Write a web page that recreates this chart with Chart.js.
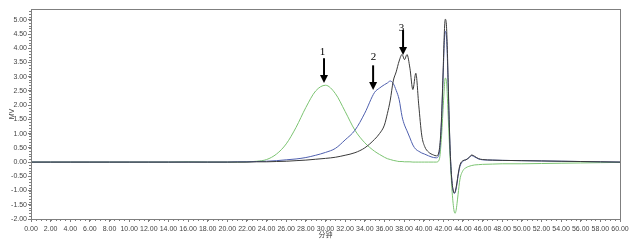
<!DOCTYPE html>
<html>
<head>
<meta charset="utf-8">
<script src="https://cdn.jsdelivr.net/npm/chart.js@4/dist/chart.umd.min.js"></script>
<style>
html,body{margin:0;padding:0;background:#fff;}
#wrap{width:635px;height:241px;position:relative;}
</style>
</head>
<body>
<div id="wrap"><canvas id="c" width="635" height="241"></canvas></div>
<script>
// ---- data (minutes vs MV) ----
const times = [0,2,4,6,8,10,12,14,16,18,20,21,22,23,24,25,26,27,28,29,30,31,32,33,34,35,35.5,36,36.3,36.6,36.9,37.2,37.5,37.8,38.05,38.3,38.6,38.9,39.2,39.5,39.8,40.1,40.5,41,41.3,41.6,41.8,42,42.1,42.2,42.3,42.4,42.5,42.6,42.7,42.8,42.9,43,43.1,43.2,43.3,43.4,43.5,43.7,44,44.3,44.6,44.9,45.2,45.6,46,47,48,50,52,54,56,58,60];

const sample1 = [0,0,0,0,0,0,0,0,0.01,0,0,0,0.01,0.03,0.09,0.28,0.64,1.22,1.92,2.50,2.70,2.41,1.78,1.12,0.68,0.38,0.27,0.17,0.12,0.09,0.06,0.04,0.02,0.02,0.01,0.01,0.01,0,0,0,0,0,0,0,0,0.1,0.8,2.0,2.6,2.95,2.9,2.4,1.6,0.8,0.1,-0.5,-1.05,-1.45,-1.72,-1.8,-1.7,-1.45,-1.15,-0.6,-0.3,-0.2,-0.15,-0.12,-0.1,-0.09,-0.08,-0.07,-0.06,-0.06,-0.05,-0.04,-0.03,-0.02,-0.01];

const sample2 = [0,0,0,0,0,0,0,0,0,0,0,0.01,0.01,0.02,0.03,0.05,0.08,0.11,0.16,0.24,0.34,0.48,0.78,1.12,1.72,2.45,2.6,2.72,2.78,2.85,2.76,2.52,2.2,1.6,1.3,1.1,0.85,0.6,0.45,0.38,0.32,0.28,0.22,0.16,0.15,0.35,1.3,3.2,4.2,4.6,4.5,3.8,2.6,1.4,0.4,-0.3,-0.75,-1.0,-1.1,-1.08,-0.95,-0.75,-0.5,-0.15,0.03,0.08,0.15,0.23,0.18,0.11,0.08,0.07,0.06,0.05,0.04,0.03,0.02,0.01,0];

const sample3 = [0,0,0,0,0,0,0,0,0,0,0,0,0,0.01,0.01,0.02,0.03,0.05,0.07,0.1,0.13,0.17,0.24,0.33,0.5,0.8,1.0,1.3,1.7,2.18,2.85,3.17,3.55,3.78,3.6,3.78,3.3,2.55,3.12,2.0,0.95,0.55,0.35,0.25,0.22,0.45,1.4,3.4,4.5,5.02,4.9,4.1,2.8,1.5,0.4,-0.3,-0.75,-0.98,-1.08,-1.05,-0.9,-0.7,-0.45,-0.1,0.05,0.08,0.15,0.25,0.2,0.12,0.09,0.07,0.06,0.05,0.04,0.03,0.02,0.01,0];

const xTickValues = [0,2,4,6,8,10,12,14,16,18,20,22,24,26,28,30,32,34,36,38,40,42,44,46,48,50,52,54,56,58,60];
const yTickValues = [-2,-1.5,-1,-0.5,0,0.5,1,1.5,2,2.5,3,3.5,4,4.5,5];

const arrowLabels = ['1','2','3'];
const arrowX = [29.85, 34.85, 37.9];
const arrowTipY = [2.78, 2.53, 3.76];
const arrowTailY = [3.65, 3.40, 4.64];
const labelX = [29.7, 34.9, 37.75];
const labelY = [3.87, 3.70, 4.70];

const xTitle = '分钟';
const yTitle = 'MV';

function pts(ys){ return times.map((t,i)=>({x:t,y:ys[i]})); }

const axisColor = '#7f7f7f';
const tickFont = {family:'Liberation Sans, Arial, sans-serif', size:7};

const framePlugin = {
  id:'frame',
  afterDraw(chart){
    const {ctx, chartArea:a, scales:{x,y}} = chart;
    ctx.save();
    ctx.strokeStyle = axisColor;
    ctx.lineWidth = 1;
    ctx.strokeRect(Math.round(a.left)+0.5, Math.round(a.top)+0.5, Math.round(a.right-a.left), Math.round(a.bottom-a.top));
    // minor ticks
    ctx.beginPath();
    for(let v=-2; v<=5.3501; v+=0.1){
      const py = Math.round(y.getPixelForValue(v))+0.5;
      ctx.moveTo(a.left-2, py); ctx.lineTo(a.left, py);
    }
    for(let v=0; v<=60.001; v+=0.5){
      const px = Math.round(x.getPixelForValue(v))+0.5;
      ctx.moveTo(px, a.bottom); ctx.lineTo(px, a.bottom+2);
    }
    ctx.stroke();
    ctx.restore();
  }
};

const arrowPlugin = {
  id:'arrows',
  afterDatasetsDraw(chart){
    const {ctx, scales:{x,y}} = chart;
    ctx.save();
    ctx.fillStyle = '#000';
    ctx.strokeStyle = '#000';
    for(let i=0;i<arrowLabels.length;i++){
      const px = x.getPixelForValue(arrowX[i]);
      const tip = y.getPixelForValue(arrowTipY[i]);
      const tail = y.getPixelForValue(arrowTailY[i]);
      ctx.lineWidth = 2;
      ctx.beginPath();
      ctx.moveTo(px, tail); ctx.lineTo(px, tip-6);
      ctx.stroke();
      ctx.beginPath();
      ctx.moveTo(px-4, tip-8); ctx.lineTo(px+4, tip-8); ctx.lineTo(px, tip); ctx.closePath();
      ctx.fill();
      ctx.font = '11px "Liberation Serif", "Times New Roman", serif';
      ctx.textAlign = 'center'; ctx.textBaseline = 'middle';
      ctx.fillText(arrowLabels[i], x.getPixelForValue(labelX[i]), y.getPixelForValue(labelY[i]));
    }
    ctx.restore();
  }
};

new Chart(document.getElementById('c'), {
  type:'line',
  data:{
    datasets:[
      {label:'3', data:pts(sample3), borderColor:'#3a3a3a', borderWidth:1, pointRadius:0, cubicInterpolationMode:'monotone'},
      {label:'2', data:pts(sample2), borderColor:'#4e5fae', borderWidth:1, pointRadius:0, cubicInterpolationMode:'monotone'},
      {label:'1', data:pts(sample1), borderColor:'#7cc472', borderWidth:1, pointRadius:0, cubicInterpolationMode:'monotone'}
    ]
  },
  options:{
    responsive:false,
    animation:false,
    events:[],
    layout:{padding:{left:0, top:9, right:15, bottom:0}},
    plugins:{legend:{display:false}, tooltip:{enabled:false}},
    scales:{
      x:{
        type:'linear', min:0, max:60,
        afterBuildTicks(s){ s.ticks = xTickValues.map(v=>({value:v})); },
        afterFit(s){ s.height = 22; },
        ticks:{autoSkip:false, maxRotation:0, font:tickFont, color:'#444', padding:3, callback:v=>Number(v).toFixed(2)},
        grid:{drawOnChartArea:false, drawTicks:true, tickLength:3, color:axisColor},
        border:{color:axisColor},
        title:{display:true, text:xTitle, font:{family:'Noto Sans CJK SC, sans-serif', size:7}, color:'#444', padding:{top:0,bottom:2}}
      },
      y:{
        type:'linear', min:-2, max:5.38,
        afterBuildTicks(s){ s.ticks = yTickValues.map(v=>({value:v})); },
        afterFit(s){ s.width = 31; },
        ticks:{autoSkip:false, font:tickFont, color:'#444', padding:1, callback:v=>Number(v).toFixed(2)},
        grid:{drawOnChartArea:false, drawTicks:true, tickLength:3, color:axisColor},
        border:{color:axisColor},
        title:{display:true, text:yTitle, font:{family:'Liberation Sans, Arial, sans-serif', size:7}, color:'#444', padding:{top:8,bottom:0}}
      }
    }
  },
  plugins:[framePlugin, arrowPlugin]
});
</script>
</body>
</html>
